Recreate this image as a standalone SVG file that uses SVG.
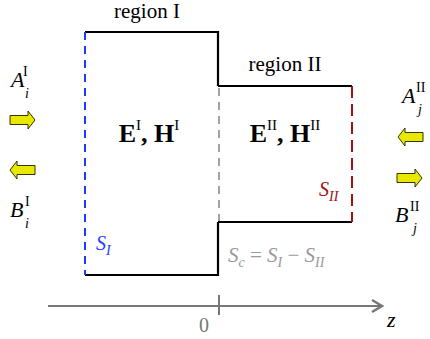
<svg xmlns="http://www.w3.org/2000/svg" width="430" height="339" viewBox="0 0 430 339">
<defs>
<style>
text{font-family:'Liberation Serif','Times New Roman',Times,serif;}
.lbl{font-size:21px;fill:#000;}
.fld{font-size:26px;font-weight:bold;fill:#000;}
.it{font-style:italic;}
.wall{stroke:#000;stroke-width:2.2;fill:none;}
.yarr{fill:#e8e800;stroke:#333300;stroke-width:1;}
</style>
<path id="arr" d="M0,-4.5 H18 V-9 L25,0 L18,9 V4.5 H0 Z"/>
</defs>
<rect width="430" height="339" fill="#fff"/>

<g id="connectors">
<line x1="48" y1="306" x2="381" y2="306" stroke="#777" stroke-width="2"/>
<polyline points="372,300 382,306 372,312" fill="none" stroke="#777" stroke-width="2.5"/>
<line x1="219" y1="295" x2="219" y2="315" stroke="#777" stroke-width="2"/>
</g>

<g id="regionI">
<polyline class="wall" points="218,86 218,32 85,32"/>
<polyline class="wall" points="85,275 218,275 218,222"/>
<line x1="85" y1="32" x2="85" y2="275" stroke="#1a3cff" stroke-width="2" stroke-dasharray="8,6"/>
<text class="lbl" x="147" y="18" text-anchor="middle">region I</text>
<text class="fld" x="149" y="142" text-anchor="middle">E<tspan font-size="15" font-weight="normal" dy="-12">I</tspan><tspan dy="12">, H</tspan><tspan font-size="15" font-weight="normal" dy="-12">I</tspan></text>
<text class="it" x="96" y="250" font-size="20" fill="#1a3cff">S<tspan font-size="14" dy="5">I</tspan></text>
</g>

<g id="regionII">
<polyline class="wall" points="218,86 352,86"/>
<polyline class="wall" points="218,222 352,222"/>
<line x1="352" y1="86" x2="352" y2="222" stroke="#a01010" stroke-width="2" stroke-dasharray="12,6"/>
<text class="lbl" x="285" y="71" text-anchor="middle">region II</text>
<text class="fld" x="285" y="142" text-anchor="middle">E<tspan font-size="15" font-weight="normal" dy="-12">II</tspan><tspan dy="12">, H</tspan><tspan font-size="15" font-weight="normal" dy="-12">II</tspan></text>
<text class="it" x="319" y="196" font-size="20" fill="#a01010">S<tspan font-size="14" dy="5">II</tspan></text>
</g>

<g id="interface">
<line x1="219" y1="88" x2="219" y2="221" stroke="#999" stroke-width="1.8" stroke-dasharray="8,6"/>
<text x="228" y="262" font-size="21" fill="#999"><tspan font-style="italic">S</tspan><tspan font-style="italic" font-size="14" dy="5">c</tspan><tspan dy="-5"> = </tspan><tspan font-style="italic">S</tspan><tspan font-style="italic" font-size="14" dy="5">I</tspan><tspan dy="-5"> − </tspan><tspan font-style="italic">S</tspan><tspan font-style="italic" font-size="14" dy="5">II</tspan></text>
</g>

<g id="portI">
<text class="it" x="11" y="87" font-size="22">A</text>
<text x="23" y="76" font-size="14">I</text>
<text class="it" x="25" y="98" font-size="14">i</text>
<use href="#arr" class="yarr" x="10" y="120"/>
<use href="#arr" class="yarr" transform="translate(35,170) scale(-1,1)"/>
<text class="it" x="10" y="217" font-size="22">B</text>
<text x="25" y="206" font-size="14">I</text>
<text class="it" x="25" y="228" font-size="14">i</text>
</g>

<g id="portII">
<text class="it" x="402" y="103" font-size="22">A</text>
<text x="416" y="92" font-size="14">II</text>
<text class="it" x="418" y="114" font-size="14">j</text>
<use href="#arr" class="yarr" transform="translate(423,137) scale(-1,1)"/>
<use href="#arr" class="yarr" x="397" y="178"/>
<text class="it" x="395" y="222" font-size="22">B</text>
<text x="410" y="211" font-size="14">II</text>
<text class="it" x="413" y="233" font-size="14">j</text>
</g>

<g id="axis-labels">
<text x="204" y="332" font-size="20" fill="#777" text-anchor="middle">0</text>
<text class="it" x="387" y="327" font-size="22">z</text>
</g>
</svg>
